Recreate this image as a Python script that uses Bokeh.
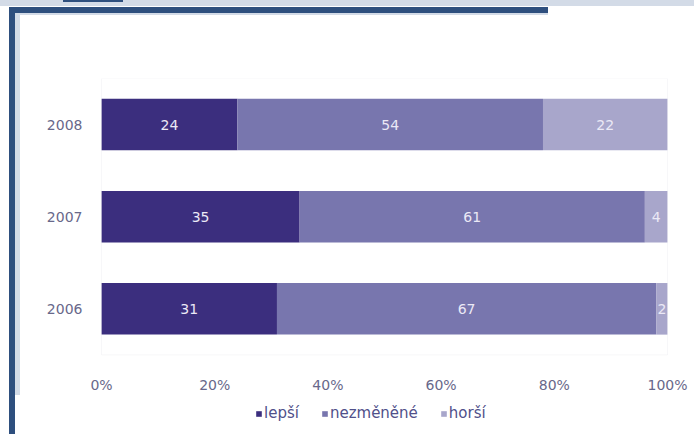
from bokeh.plotting import figure
from bokeh.models import (Range1d, FixedTicker, Legend, LegendItem,
                          ColumnDataSource, BoxAnnotation)
from bokeh.core.properties import value
from bokeh.embed import file_html
from bokeh.resources import INLINE

# ---- data ----
years = ["2006", "2007", "2008"]
lepsi = [31, 35, 24]
nezmenene = [67, 61, 54]
horsi = [2, 4, 22]
series_keys = ["lepsi", "nezmenene", "horsi"]
series_names = ["lepší", "nezměněné", "horší"]
tick_values = [0, 20, 40, 60, 80, 100]
tick_labels = ["0%", "20%", "40%", "60%", "80%", "100%"]

colors = ["#3b2e7e", "#7876ae", "#a8a6cb"]
FONT = "DejaVu Sans"

ypos = list(range(len(years)))
src = ColumnDataSource(dict(y=ypos, lepsi=lepsi, nezmenene=nezmenene, horsi=horsi))

# frame spans past the plot area (down to the canvas bottom and a little to the
# left/right) so the legend and the 0%/100% labels drawn inside it are not clipped
p = figure(width=694, height=434, y_range=Range1d(-1.3641, 2.5),
           x_range=Range1d(-2.827, 104.77), output_backend="svg", toolbar_location=None,
           min_border_left=85, min_border_right=0, min_border_top=78, min_border_bottom=0)

rends = p.hbar_stack(series_keys, y="y", height=0.56, color=colors, source=src,
                     line_color=None)

# value labels in segments
lx, ly, lt = [], [], []
for i, yv in enumerate(ypos):
    cum = 0
    for vals in (lepsi, nezmenene, horsi):
        v = vals[i]
        lx.append(cum + v / 2)
        ly.append(yv)
        lt.append(str(v))
        cum += v
p.text(x="x", y="y", text="t", source=ColumnDataSource(dict(x=lx, y=ly, t=lt)),
       text_align="center", text_baseline="middle", text_color="#ebe9f6",
       text_font=value(FONT), text_font_size="14px")

# faint plot-area box
p.add_layout(BoxAnnotation(left=0, right=100, bottom=-0.5, top=2.5, fill_alpha=0,
                           line_color="#e4e4ec", line_width=1))

# axes
p.xgrid.visible = False
p.ygrid.visible = False
p.xaxis.ticker = FixedTicker(ticks=tick_values)
p.xaxis.major_label_overrides = {t: l for t, l in zip(tick_values, tick_labels)}
p.xaxis.fixed_location = -0.5
p.yaxis.ticker = FixedTicker(ticks=ypos)
p.yaxis.major_label_overrides = {i: y for i, y in zip(ypos, years)}
for ax in (p.xaxis[0], p.yaxis[0]):
    ax.axis_line_color = None
    ax.major_tick_line_color = None
    ax.minor_tick_line_color = None
    ax.major_tick_out = 0
    ax.major_tick_in = 0
    ax.minor_tick_out = 0
    ax.major_label_text_font = FONT
    ax.major_label_text_font_size = "14px"
    ax.major_label_text_color = "#68688a"
p.xaxis.major_label_standoff = 22
p.yaxis.major_label_standoff = 3

p.outline_line_color = None
p.background_fill_color = "white"
p.border_fill_alpha = 0

legend = Legend(items=[LegendItem(label=n, renderers=[r]) for n, r in zip(series_names, rends)],
                orientation="horizontal", location=(170, 12),
                glyph_width=7, glyph_height=7, label_standoff=2, spacing=22,
                label_text_font=FONT, label_text_font_size="15px", label_text_color="#50508a",
                padding=0, margin=0, border_line_color=None, background_fill_alpha=0)
p.add_layout(legend)

# decorative page frame (CSS background layers on the figure element)
dark = "#2e4f7e"
light = "#d3dbe7"
layers = [  # color, x, y, w, h
    (dark, 63, 0, 60, 2),
    (dark, 9, 7, 539, 6),
    (dark, 9, 7, 6, 427),
    (light, 15, 13, 533, 2),
    (light, 15, 13, 5, 382),
    (light, 0, 0, 694, 6),
]
p.styles = {
    "background-color": "white",
    "background-image": ", ".join(f"linear-gradient({c},{c})" for c, *_ in layers),
    "background-size": ", ".join(f"{w}px {h}px" for _, _, _, w, h in layers),
    "background-position": ", ".join(f"{x}px {y}px" for _, x, y, _, _ in layers),
    "background-repeat": "no-repeat",
}

open("out.html", "w").write(file_html(p, INLINE))
